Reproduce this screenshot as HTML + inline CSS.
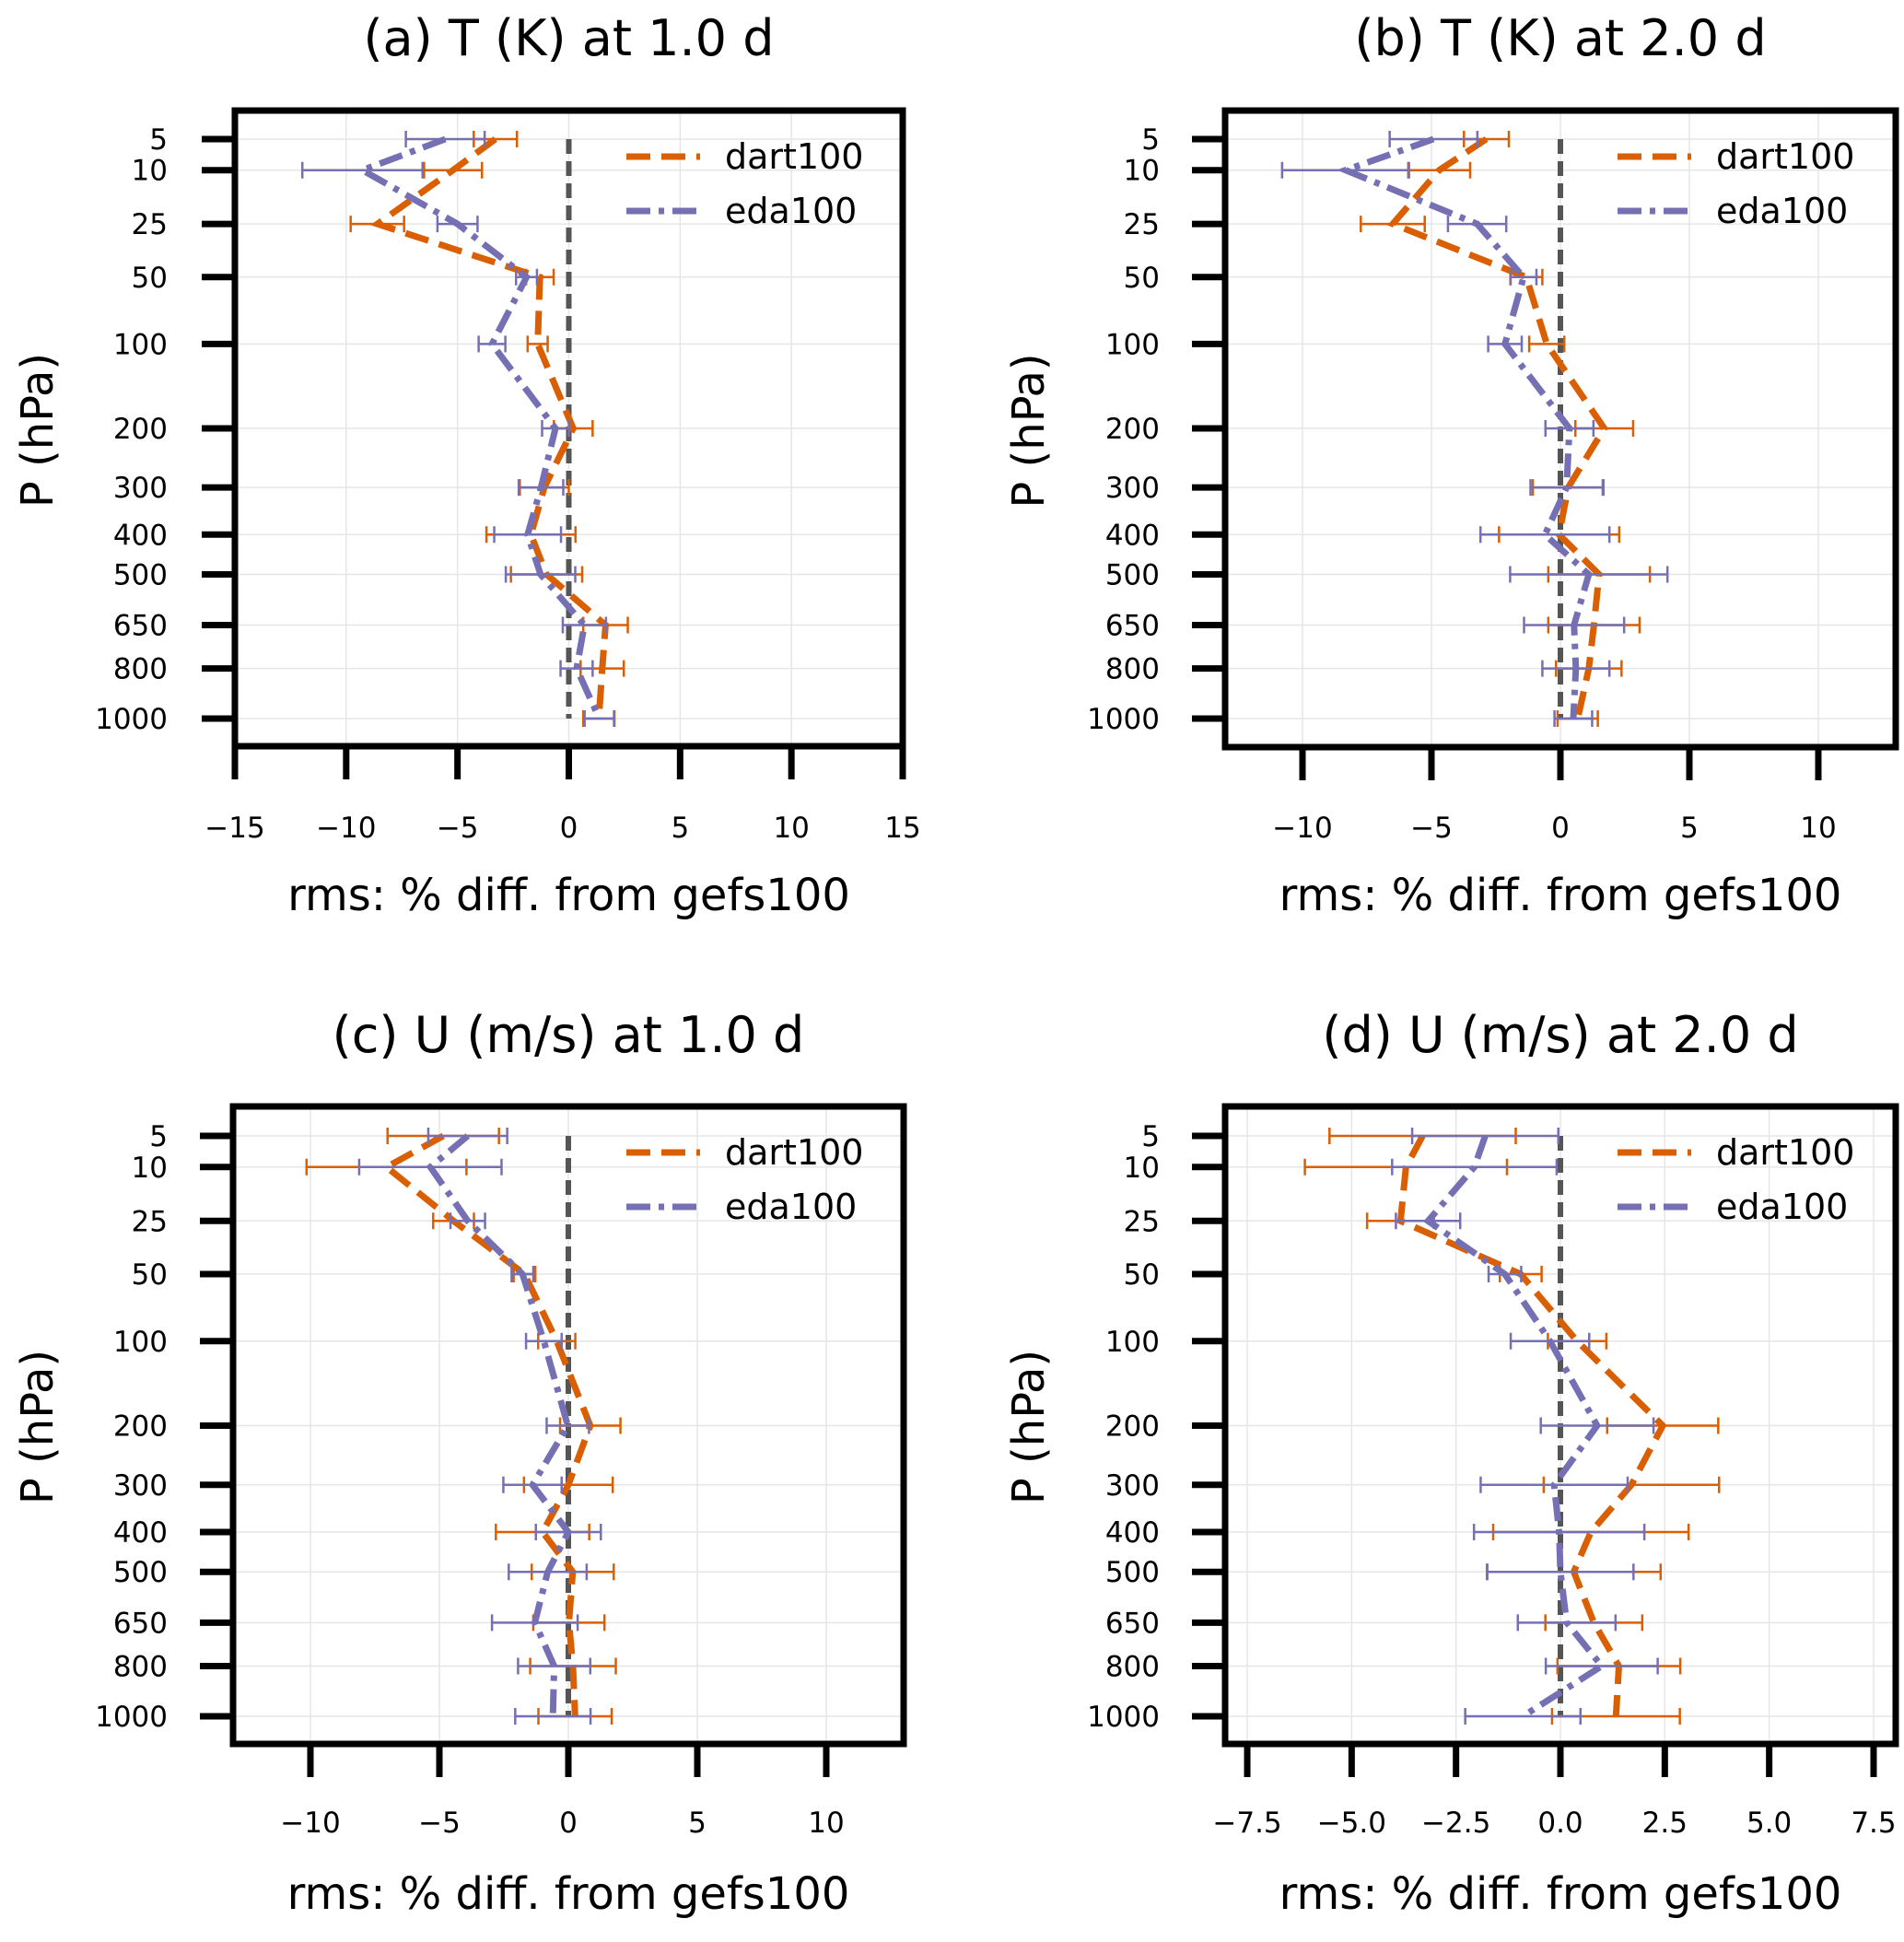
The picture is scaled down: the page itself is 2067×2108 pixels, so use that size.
<!DOCTYPE html>
<html><head><meta charset="utf-8"><style>
html,body{margin:0;padding:0;background:#fff;}
svg{display:block;font-family:"DejaVu Sans","Liberation Sans",sans-serif;}
</style></head><body>
<svg id="fig" width="2067" height="2108" viewBox="0 0 2067 2108" xmlns="http://www.w3.org/2000/svg"></svg>
<script>
const levels = [5,10,25,50,100,200,300,400,500,650,800,1000];
// panel (a) T 1.0 d
const aDart = [-3.3,-5.2,-8.6,-1.3,-1.4,0.2,-1.1,-1.7,-1.0,1.65,1.5,1.35];
const aDartErr = [0.97,1.3,1.2,0.62,0.45,0.87,1.1,2.0,1.6,1.0,0.97,0.7];
const aEda = [-5.55,-9.27,-5.0,-1.9,-3.45,-0.6,-1.25,-1.85,-1.27,0.7,0.35,1.37];
const aEdaErr = [1.77,2.7,0.9,0.47,0.6,0.6,1.0,1.5,1.56,0.97,0.72,0.66];
// panel (b) T 2.0 d
const bDart = [-2.87,-4.7,-6.5,-1.32,-0.53,1.7,0.3,-0.05,1.5,1.3,1.1,0.67];
const bDartErr = [0.87,1.2,1.24,0.62,0.68,1.12,1.37,2.33,1.97,1.77,1.27,0.78];
const bEda = [-4.92,-8.33,-3.23,-1.43,-2.15,0.35,0.24,-0.6,1.1,0.53,0.6,0.5];
const bEdaErr = [1.7,2.46,1.13,0.5,0.65,0.93,1.4,2.5,3.05,1.94,1.3,0.73];
// panel (c) U 1.0 d
const cDart = [-4.85,-7.05,-4.45,-1.7,-0.45,0.85,0,-1.0,0.17,0.02,0.18,0.26];
const cDartErr = [2.16,3.1,0.79,0.42,0.72,1.17,1.72,1.81,1.59,1.38,1.66,1.42];
const cEda = [-3.9,-5.35,-3.9,-1.78,-0.95,-0.02,-1.39,0,-0.8,-1.3,-0.55,-0.6];
const cEdaErr = [1.53,2.76,0.67,0.42,0.69,0.82,1.13,1.26,1.51,1.66,1.4,1.46];
// panel (d) U 2.0 d
const dDart = [-3.3,-3.7,-3.83,-0.95,0.4,2.45,1.7,0.73,0.32,0.8,1.4,1.33];
const dDartErr = [2.23,2.42,0.8,0.5,0.7,1.33,2.1,2.34,2.08,1.16,1.47,1.53];
const dEda = [-1.8,-2.06,-3.17,-1.33,-0.25,0.88,-0.15,-0.03,0,0.15,0.99,-0.9];
const dEdaErr = [1.75,1.97,0.77,0.39,0.94,1.35,1.76,2.04,1.75,1.17,1.34,1.38];
const aTicks = [-15,-10,-5,0,5,10,15];
const bTicks = [-10,-5,0,5,10];
const cTicks = [-10,-5,0,5,10];
const dTicks = [-7.5,-5.0,-2.5,0.0,2.5,5.0,7.5];

const NS = "http://www.w3.org/2000/svg";
const svg = document.getElementById('fig');
function mk(tag, attrs, parent, txt){
  const e = document.createElementNS(NS, tag);
  for (const k in attrs) e.setAttribute(k, attrs[k]);
  if (txt !== undefined) e.textContent = txt;
  (parent||svg).appendChild(e);
  return e;
}
const ORANGE = "#d95f02", PURPLE = "#7570b3";
const panels = [
 {id:'a', title:'(a) T (K) at 1.0 d', L:255,R:980,T:120,B:810,xmin:-15,xmax:15,y5:151,y1000:780,ticks:aTicks,dec:0,dart:aDart,dartErr:aDartErr,eda:aEda,edaErr:aEdaErr,ylabX:40,ytickR:182,titleY:60,tickLblY:909,xlabY:988,legX:680},
 {id:'b', title:'(b) T (K) at 2.0 d', L:1330,R:2058,T:120,B:811,xmin:-13,xmax:13,y5:151,y1000:780,ticks:bTicks,dec:0,dart:bDart,dartErr:bDartErr,eda:bEda,edaErr:bEdaErr,ylabX:1116,ytickR:1259,titleY:60,tickLblY:909,xlabY:988,legX:1756},
 {id:'c', title:'(c) U (m/s) at 1.0 d', L:253,R:981,T:1201,B:1893,xmin:-13,xmax:13,y5:1233,y1000:1863,ticks:cTicks,dec:0,dart:cDart,dartErr:cDartErr,eda:cEda,edaErr:cEdaErr,ylabX:40,ytickR:182,titleY:1142,tickLblY:1989,xlabY:2072,legX:680},
 {id:'d', title:'(d) U (m/s) at 2.0 d', L:1330,R:2058,T:1201,B:1893,xmin:-8.03,xmax:8.03,y5:1233,y1000:1863,ticks:dTicks,dec:1,dart:dDart,dartErr:dDartErr,eda:dEda,edaErr:dEdaErr,ylabX:1116,ytickR:1259,titleY:1142,tickLblY:1989,xlabY:2072,legX:1756}
];
const c5 = Math.cbrt(5), c1000 = Math.cbrt(1000);
function fmt(v,dec){ const s = Math.abs(v).toFixed(dec); return (v<0?'\u2212':'')+s; }

panels.forEach(P=>{
  const g = mk('g',{});
  
  
  const xs = v => P.L + (v-P.xmin)/(P.xmax-P.xmin)*(P.R-P.L);
  const ys = p => P.y5 + (Math.cbrt(p)-c5)/(c1000-c5)*(P.y1000-P.y5);
  const cx = (P.L+P.R)/2;
  P.ticks.forEach(t=>{
    const l = mk('line',{x1:xs(t),x2:xs(t),y1:P.T,y2:P.B,stroke:'#e6e6e6','stroke-width':1.5},g);
    
    
  });
  levels.forEach(p=>{
    const l = mk('line',{x1:P.L,x2:P.R,y1:ys(p),y2:ys(p),stroke:'#e6e6e6','stroke-width':1.5},g);
    
    
  });
  const z = mk('line',{x1:xs(0),x2:xs(0),y1:ys(5),y2:ys(1000),stroke:'#555','stroke-width':6,'stroke-dasharray':'16,8'},g);
  
  
  const series = [
    {name:'dart100',vals:P.dart,err:P.dartErr,col:ORANGE,dash:'26,12'},
    {name:'eda100',vals:P.eda,err:P.edaErr,col:PURPLE,dash:'26,9,6,9'}
  ];
  series.forEach(S=>{
    levels.forEach((p,i)=>{
      const y = ys(p), x1 = xs(S.vals[i]-S.err[i]), x2 = xs(S.vals[i]+S.err[i]);
      const e = mk('path',{d:`M${x1},${y}H${x2}M${x1},${y-9}V${y+9}M${x2},${y-9}V${y+9}`,stroke:S.col,'stroke-width':2.5,fill:'none'},g);
      
      
    });
    const d = levels.map((p,i)=>(i?'L':'M')+xs(S.vals[i]).toFixed(1)+','+ys(p).toFixed(1)).join('');
    const ln = mk('path',{d:d,stroke:S.col,'stroke-width':7,fill:'none','stroke-dasharray':S.dash},g);
    
    
  });
  const fr = mk('rect',{x:P.L,y:P.T,width:P.R-P.L,height:P.B-P.T,fill:'none',stroke:'#000','stroke-width':7},g);
  
  
  P.ticks.forEach(t=>{
    const tk = mk('line',{x1:xs(t),x2:xs(t),y1:P.B,y2:P.B+36,stroke:'#000','stroke-width':7},g);
    
    
    const tl = mk('text',{x:xs(t),y:P.tickLblY,'font-size':31,'text-anchor':'middle',fill:'#000'},g,fmt(t,P.dec));
    
    
  });
  levels.forEach(p=>{
    const tk = mk('line',{x1:P.L-36,x2:P.L,y1:ys(p),y2:ys(p),stroke:'#000','stroke-width':7},g);
    
    
    const tl = mk('text',{x:P.ytickR,y:ys(p)+11,'font-size':31,'text-anchor':'end',fill:'#000'},g,String(p));
    
    
  });
  const tt = mk('text',{x:cx,y:P.titleY,'font-size':54,'text-anchor':'middle',fill:'#000'},g,P.title);
  
  
  const xl = mk('text',{x:cx,y:P.xlabY,'font-size':48,'text-anchor':'middle',fill:'#000'},g,'rms: % diff. from gefs100');
  
  
  const ymid = (P.T+P.B)/2 + 2;
  const yl = mk('text',{x:P.ylabX+17,y:ymid,'font-size':48,'text-anchor':'middle',fill:'#000',transform:`rotate(-90 ${P.ylabX+17} ${ymid})`},g,'P (hPa)');
  
  
  const ly = P.T + 50;
  series.forEach((S,k)=>{
    const yy = ly + k*59;
    const lg = mk('g',{},g);
    
    
    mk('line',{x1:P.legX,x2:P.legX+80,y1:yy,y2:yy,stroke:S.col,'stroke-width':7,'stroke-dasharray':S.dash},lg);
    mk('text',{x:P.legX+107,y:yy+13,'font-size':38,fill:'#000'},lg,S.name);
  });
});
</script>
</body></html>
